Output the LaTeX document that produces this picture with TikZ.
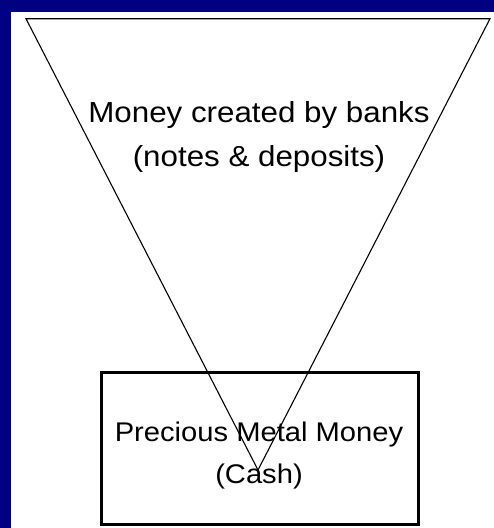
\documentclass[tikz,border=0pt]{standalone}
\usepackage{fontspec}
\setmainfont{Liberation Sans}
\definecolor{navy}{RGB}{0,0,128}
\tikzset{
  thinline/.style={draw=black, line width=1.1pt, line join=miter},
  metalbox/.style={draw=black, line width=3.2pt, minimum width=317pt, minimum height=152pt, inner sep=0pt},
  lbl/.style={align=center, inner sep=0pt, anchor=base, text=black},
}
\newcommand{\sx}[1]{\scalebox{1.08}[1]{#1}}
\begin{document}
\begin{tikzpicture}[x=1pt,y=-1pt]
\useasboundingbox (0,0) rectangle (494,528);
\fill[white] (-1,-1) rectangle (495,529);
\fill[navy] (0,0) rectangle (494,12);
\fill[navy] (0,0) rectangle (11,528);
\coordinate (tl) at (26,18.7);
\coordinate (tr) at (490,18.7);
\coordinate (apex) at (258,470);
\draw[thinline] (tl) -- (tr) -- (apex) -- cycle;
\node[metalbox] (metal) at (260,448.5) {};
\node[lbl, font=\fontsize{29}{44}\selectfont] (bank) at (259,166) {\sx{Money created by banks}\\\sx{(notes \& deposits)}};
\node[lbl, font=\fontsize{27}{42}\selectfont] (metaltext) at (259,483) {\sx{Precious Metal Money}\\\sx{(Cash)}};
\end{tikzpicture}
\end{document}
